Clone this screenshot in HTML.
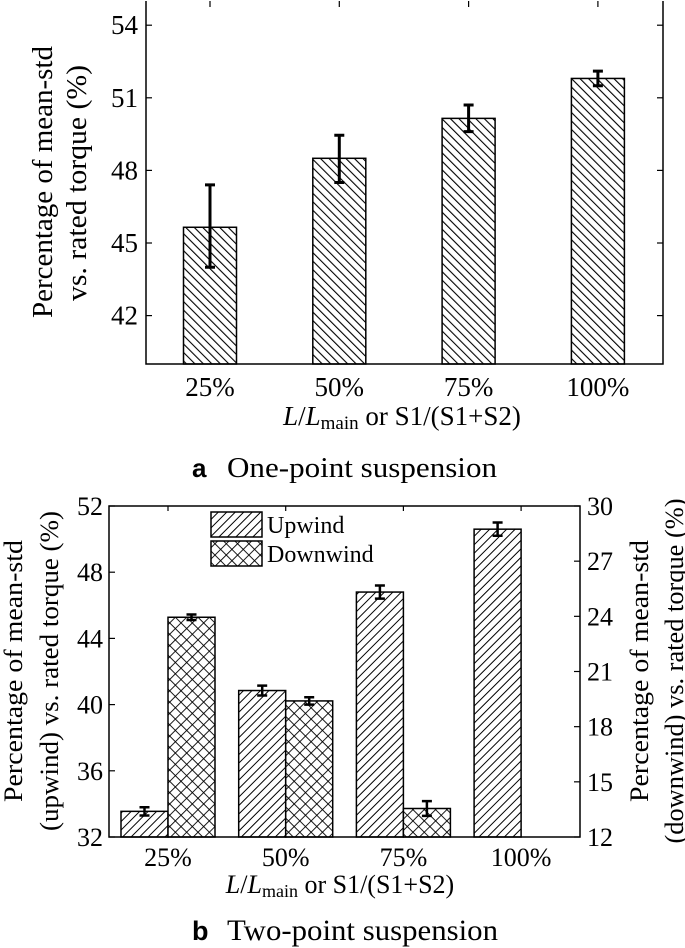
<!DOCTYPE html>
<html><head><meta charset="utf-8">
<style>
html,body{margin:0;padding:0;background:#fff;}
svg{display:block;font-family:"Liberation Serif",serif;}
</style></head>
<body>
<svg id="chart" width="685" height="948" viewBox="0 0 685 948" xmlns="http://www.w3.org/2000/svg">
<defs>
<pattern id="hatchBack" patternUnits="userSpaceOnUse" width="6" height="6" patternTransform="rotate(-45)">
<rect width="6" height="6" fill="#fff"/><line x1="0" y1="0" x2="0" y2="6" stroke="#000" stroke-width="2.2"/>
</pattern>
<pattern id="hatchFwd" patternUnits="userSpaceOnUse" width="6" height="6" patternTransform="rotate(45)">
<rect width="6" height="6" fill="#fff"/><line x1="0" y1="0" x2="0" y2="6" stroke="#000" stroke-width="2"/>
</pattern>
<pattern id="hatchCross" patternUnits="userSpaceOnUse" width="8" height="8" patternTransform="rotate(45)">
<rect width="8" height="8" fill="#fff"/><line x1="0" y1="0" x2="0" y2="8" stroke="#000" stroke-width="1.8"/><line x1="0" y1="0" x2="8" y2="0" stroke="#000" stroke-width="1.8"/>
</pattern>
</defs>
<g id="chartA"></g>
<g id="chartB"></g>
</svg>
<script>
const categories = ["25%", "50%", "75%", "100%"];
const onePointValues = [45.65, 48.5, 50.15, 51.8];
const onePointErrHigh = [47.4, 49.45, 50.7, 52.1];
const onePointErrLow = [44.0, 47.5, 49.6, 51.5];
const onePointTicks = [42, 45, 48, 51, 54];
const upwindValues = [33.55, 40.85, 46.8, 50.6];
const upwindErr = [0.25, 0.3, 0.4, 0.4];
const downwindValues = [23.95, 19.4, 13.55, 12];
const downwindErr = [0.15, 0.2, 0.4, 0];
const leftTicksB = [32, 36, 40, 44, 48, 52];
const rightTicksB = [12, 15, 18, 21, 24, 27, 30];

const NS = "http://www.w3.org/2000/svg";
function mk(parent, tag, attrs, text) {
  const el = document.createElementNS(NS, tag);
  for (const k in attrs) el.setAttribute(k, attrs[k]);
  if (text !== undefined) el.textContent = text;
  parent.appendChild(el);
  return el;
}

// ---------- Chart A ----------
(function () {
  const g = document.getElementById("chartA");
  const L = 146, R = 663, T = 1, B = 364;
  const yMin = 40, yMax = 55;
  const y = v => B - (v - yMin) / (yMax - yMin) * (B - T);
  const x0 = 210, step = 129.3, bw = 53;
  const x = i => x0 + i * step;

  onePointValues.forEach((v, i) => {
    const r = mk(g, "rect", {x: x(i) - bw / 2, y: y(v), width: bw, height: B - y(v), fill: "url(#hatchBack)", stroke: "#000", "stroke-width": 1.5});
    
    
    const e = mk(g, "path", {d: `M${x(i)},${y(onePointErrHigh[i])}V${y(onePointErrLow[i])}M${x(i)-5},${y(onePointErrHigh[i])}H${x(i)+5}M${x(i)-5},${y(onePointErrLow[i])}H${x(i)+5}`, stroke: "#000", "stroke-width": 3, fill: "none"});
    
    
  });
  const frame = mk(g, "path", {d: `M${L},${T}V${B}H${R}V${T}`, stroke: "#000", "stroke-width": 1.5, fill: "none"});
  
  
  onePointTicks.forEach(t => {
    mk(g, "line", {x1: L, x2: L + 6, y1: y(t), y2: y(t), stroke: "#000", "stroke-width": 1.2});
    mk(g, "line", {x1: R, x2: R - 6, y1: y(t), y2: y(t), stroke: "#000", "stroke-width": 1.2});
    const tl = mk(g, "text", {x: 138, y: y(t) + 9, "text-anchor": "end", "font-size": 27}, t);
    
    
  });
  categories.forEach((c, i) => {
    mk(g, "line", {x1: x(i), x2: x(i), y1: T, y2: T + 6, stroke: "#000", "stroke-width": 1.2});
    const tl = mk(g, "text", {x: x(i), y: 396, "text-anchor": "middle", "font-size": 27}, c);
    
    
  });
  const yt = mk(g, "text", {transform: "translate(52,182) rotate(-90)", "text-anchor": "middle", "font-size": 28, textLength: 272, lengthAdjust: "spacingAndGlyphs"}, "Percentage of mean-std");
  
  
  mk(g, "text", {transform: "translate(86,183) rotate(-90)", "text-anchor": "middle", "font-size": 28, textLength: 236, lengthAdjust: "spacingAndGlyphs"}, "vs. rated torque (%)");
  const xt = mk(g, "text", {x: 402, y: 425, "text-anchor": "middle", "font-size": 27});
  
  
  xt.innerHTML = '<tspan font-style="italic">L</tspan>/<tspan font-style="italic">L</tspan><tspan font-size="19" dy="4">main</tspan><tspan dy="-4"> or S1/(S1+S2)</tspan>';
  const capL = mk(g, "text", {x: 192, y: 477, "font-family": "Liberation Sans, sans-serif", "font-weight": "bold", "font-size": 26}, "a");
  
  
  const cap = mk(g, "text", {x: 227, y: 477, "font-size": 29, textLength: 270, lengthAdjust: "spacingAndGlyphs"}, "One-point suspension");
  
  
})();

// ---------- Chart B ----------
(function () {
  const g = document.getElementById("chartB");
  const L = 109, R = 580, T = 506, B = 837;
  const yl = v => B - (v - 32) / (52 - 32) * (B - T);
  const yr = v => B - (v - 12) / (30 - 12) * (B - T);
  const c0 = 168, step = 117.7, bw = 47;
  const x = i => c0 + i * step;

  categories.forEach((c, i) => {
    const uv = upwindValues[i];
    const r1 = mk(g, "rect", {x: x(i) - bw, y: yl(uv), width: bw, height: B - yl(uv), fill: "url(#hatchFwd)", stroke: "#000", "stroke-width": 1.5});
    
    
    const ux = x(i) - bw / 2;
    const e1 = mk(g, "path", {d: `M${ux},${yl(uv+upwindErr[i])}V${yl(uv-upwindErr[i])}M${ux-5},${yl(uv+upwindErr[i])}H${ux+5}M${ux-5},${yl(uv-upwindErr[i])}H${ux+5}`, stroke: "#000", "stroke-width": 2.5, fill: "none"});
    
    
    const dv = downwindValues[i];
    if (dv > 12) {
      const r2 = mk(g, "rect", {x: x(i), y: yr(dv), width: bw, height: B - yr(dv), fill: "url(#hatchCross)", stroke: "#000", "stroke-width": 1.5});
      
      
      const dx = x(i) + bw / 2;
      const e2 = mk(g, "path", {d: `M${dx},${yr(dv+downwindErr[i])}V${yr(dv-downwindErr[i])}M${dx-5},${yr(dv+downwindErr[i])}H${dx+5}M${dx-5},${yr(dv-downwindErr[i])}H${dx+5}`, stroke: "#000", "stroke-width": 2.5, fill: "none"});
      
      
    }
    mk(g, "line", {x1: x(i), x2: x(i), y1: T, y2: T + 5, stroke: "#000", "stroke-width": 1.2});
    const tl = mk(g, "text", {x: x(i), y: 866, "text-anchor": "middle", "font-size": 26}, c);
    
    
  });
  const frame = mk(g, "rect", {x: L, y: T, width: R - L, height: B - T, fill: "none", stroke: "#000", "stroke-width": 1.5});
  
  
  leftTicksB.forEach(t => {
    mk(g, "line", {x1: L, x2: L + 6, y1: yl(t), y2: yl(t), stroke: "#000", "stroke-width": 1.2});
    const tl = mk(g, "text", {x: 103, y: yl(t) + 9, "text-anchor": "end", "font-size": 26}, t);
    
    
  });
  rightTicksB.forEach(t => {
    mk(g, "line", {x1: R, x2: R - 6, y1: yr(t), y2: yr(t), stroke: "#000", "stroke-width": 1.2});
    const tl = mk(g, "text", {x: 587, y: yr(t) + 9, "text-anchor": "start", "font-size": 26}, t);
    
    
  });
  const lt = mk(g, "text", {transform: "translate(22,671) rotate(-90)", "text-anchor": "middle", "font-size": 26, textLength: 262, lengthAdjust: "spacingAndGlyphs"}, "Percentage of mean-std");
  
  
  mk(g, "text", {transform: "translate(58,671) rotate(-90)", "text-anchor": "middle", "font-size": 26, textLength: 320, lengthAdjust: "spacingAndGlyphs"}, "(upwind) vs. rated torque (%)");
  const rt = mk(g, "text", {transform: "translate(648,671) rotate(-90)", "text-anchor": "middle", "font-size": 26, textLength: 262, lengthAdjust: "spacingAndGlyphs"}, "Percentage of mean-std");
  
  
  mk(g, "text", {transform: "translate(683,671) rotate(-90)", "text-anchor": "middle", "font-size": 26, textLength: 345, lengthAdjust: "spacingAndGlyphs"}, "(downwind) vs. rated torque (%)");

  const leg = mk(g, "g", {});
  
  
  const l1 = mk(leg, "rect", {x: 211, y: 512, width: 51, height: 25, fill: "url(#hatchFwd)", stroke: "#000", "stroke-width": 1.5});
  
  
  const lt1 = mk(leg, "text", {x: 267, y: 533, "font-size": 24}, "Upwind");
  
  
  const l2 = mk(leg, "rect", {x: 211, y: 541, width: 51, height: 25, fill: "url(#hatchCross)", stroke: "#000", "stroke-width": 1.5});
  
  
  const lt2 = mk(leg, "text", {x: 267, y: 562, "font-size": 24}, "Downwind");
  
  

  const xt = mk(g, "text", {x: 340, y: 893, "text-anchor": "middle", "font-size": 26});
  
  
  xt.innerHTML = '<tspan font-style="italic">L</tspan>/<tspan font-style="italic">L</tspan><tspan font-size="18" dy="4">main</tspan><tspan dy="-4"> or S1/(S1+S2)</tspan>';
  const capL = mk(g, "text", {x: 192, y: 940, "font-family": "Liberation Sans, sans-serif", "font-weight": "bold", "font-size": 27}, "b");
  
  
  const cap = mk(g, "text", {x: 227, y: 940, "font-size": 30, textLength: 271, lengthAdjust: "spacingAndGlyphs"}, "Two-point suspension");
  
  
})();
</script>
</body></html>
